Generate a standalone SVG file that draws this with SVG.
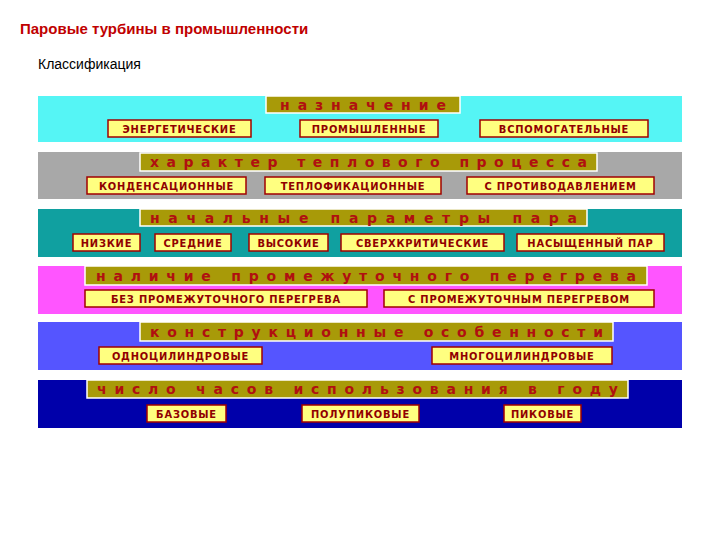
<svg xmlns="http://www.w3.org/2000/svg" width="720" height="540" viewBox="0 0 720 540">
<style>
.h{fill:#A89A08;stroke:#fff;stroke-width:1.5}
.ht{font-family:"DejaVu Sans",sans-serif;font-size:14px;font-weight:bold;fill:#B01010;text-anchor:middle}
.b{fill:#FFFF80;stroke:#A00000;stroke-width:1.5}
.bt{font-family:"DejaVu Sans Condensed","DejaVu Sans",sans-serif;font-size:11px;font-weight:bold;fill:#900000;text-anchor:middle;letter-spacing:0.8px}
</style>
<rect width="720" height="540" fill="#fff"/>
<text x="20" y="34" font-family="Liberation Sans,sans-serif" font-size="15" font-weight="bold" fill="#C00000">Паровые турбины в промышленности</text>
<text x="38" y="69" font-family="Liberation Sans,sans-serif" font-size="14" fill="#000">Классификация</text>
<g id="band1"><rect x="38" y="96" width="644" height="46" fill="#55F5F5"/>
<rect class="h" x="266" y="96" width="194" height="17"/><text class="ht" x="363" y="109.5" textLength="166" lengthAdjust="spacing">назначение</text>
<rect class="b" x="108" y="120" width="143" height="17"/><text class="bt" x="179.5" y="132.5">ЭНЕРГЕТИЧЕСКИЕ</text>
<rect class="b" x="300" y="120" width="138" height="17"/><text class="bt" x="369" y="132.5">ПРОМЫШЛЕННЫЕ</text>
<rect class="b" x="480" y="120" width="168" height="17"/><text class="bt" x="564" y="132.5">ВСПОМОГАТЕЛЬНЫЕ</text></g>
<g id="band2"><rect x="38" y="152" width="644" height="47" fill="#A8A8A8"/>
<rect class="h" x="140" y="153" width="457" height="18"/><text class="ht" x="368.5" y="167" textLength="437" lengthAdjust="spacing">характер теплового процесса</text>
<rect class="b" x="87" y="177" width="159" height="17"/><text class="bt" x="166.5" y="189.5">КОНДЕНСАЦИОННЫЕ</text>
<rect class="b" x="265" y="177" width="176" height="17"/><text class="bt" x="353" y="189.5">ТЕПЛОФИКАЦИОННЫЕ</text>
<rect class="b" x="467" y="177" width="187" height="17"/><text class="bt" x="560.5" y="189.5">С ПРОТИВОДАВЛЕНИЕМ</text></g>
<g id="band3"><rect x="38" y="209" width="644" height="48" fill="#10A0A0"/>
<rect class="h" x="140" y="209" width="447" height="17"/><text class="ht" x="363.5" y="222.5" textLength="427" lengthAdjust="spacing">начальные параметры пара</text>
<rect class="b" x="73" y="234" width="67" height="17"/><text class="bt" x="106.5" y="246.5">НИЗКИЕ</text>
<rect class="b" x="155" y="234" width="76" height="17"/><text class="bt" x="193" y="246.5">СРЕДНИЕ</text>
<rect class="b" x="249" y="234" width="79" height="17"/><text class="bt" x="288.5" y="246.5">ВЫСОКИЕ</text>
<rect class="b" x="341" y="234" width="163" height="17"/><text class="bt" x="422.5" y="246.5">СВЕРХКРИТИЧЕСКИЕ</text>
<rect class="b" x="517" y="234" width="147" height="17"/><text class="bt" x="590.5" y="246.5">НАСЫЩЕННЫЙ ПАР</text></g>
<g id="band4"><rect x="38" y="266" width="644" height="48" fill="#FF55FF"/>
<rect class="h" x="85" y="266" width="562" height="19"/><text class="ht" x="366" y="280.5" textLength="540" lengthAdjust="spacing">наличие промежуточного перегрева</text>
<rect class="b" x="85" y="290" width="282" height="17"/><text class="bt" x="226" y="302.5">БЕЗ ПРОМЕЖУТОЧНОГО ПЕРЕГРЕВА</text>
<rect class="b" x="384" y="290" width="270" height="17"/><text class="bt" x="519" y="302.5">С ПРОМЕЖУТОЧНЫМ ПЕРЕГРЕВОМ</text></g>
<g id="band5"><rect x="38" y="322" width="644" height="48" fill="#5555FF"/>
<rect class="h" x="140" y="322" width="473" height="19"/><text class="ht" x="376.5" y="336.5" textLength="453" lengthAdjust="spacing">конструкционные особенности</text>
<rect class="b" x="99" y="347" width="163" height="17"/><text class="bt" x="180.5" y="359.5">ОДНОЦИЛИНДРОВЫЕ</text>
<rect class="b" x="432" y="347" width="180" height="17"/><text class="bt" x="522" y="359.5">МНОГОЦИЛИНДРОВЫЕ</text></g>
<g id="band6"><rect x="38" y="380" width="644" height="48" fill="#0000AA"/>
<rect class="h" x="87" y="380" width="541" height="18"/><text class="ht" x="357.5" y="394" textLength="521" lengthAdjust="spacing">число часов использования в году</text>
<rect class="b" x="147" y="405" width="79" height="17"/><text class="bt" x="186.5" y="417.5">БАЗОВЫЕ</text>
<rect class="b" x="302" y="405" width="117" height="17"/><text class="bt" x="360.5" y="417.5">ПОЛУПИКОВЫЕ</text>
<rect class="b" x="504" y="405" width="77" height="17"/><text class="bt" x="542.5" y="417.5">ПИКОВЫЕ</text></g>
<g id="connectors"/>
</svg>
